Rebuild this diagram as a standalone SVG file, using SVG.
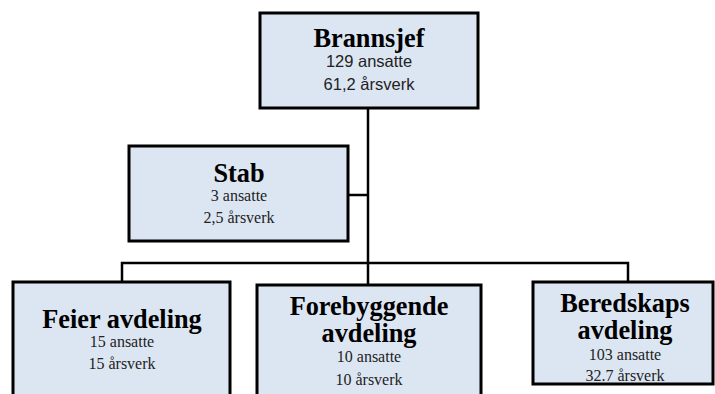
<svg xmlns="http://www.w3.org/2000/svg" width="715" height="394" viewBox="0 0 715 394">
<style>
.box{fill:#dce6f2;stroke:#000;stroke-width:3}
.line{fill:none;stroke:#000;stroke-width:2.5}
.t{font-family:"Liberation Serif","Times New Roman",serif;font-weight:bold;font-size:26.3px;text-anchor:middle;fill:#000}
.s{font-family:"Liberation Serif","Times New Roman",serif;font-size:16px;text-anchor:middle;fill:#222}
.a{font-family:"Liberation Sans",Arial,sans-serif;font-size:16.5px;text-anchor:middle;fill:#222}
</style>
<rect width="715" height="394" fill="#fff"/>
<g id="connectors">
<path class="line" d="M368,108 V263"/>
<path class="line" d="M348,195 H368"/>
<path class="line" d="M122,282 V263 H628 V282"/>
<path class="line" d="M368,263 V285"/>
</g>
<g id="brannsjef">
<rect class="box" x="260" y="13" width="218" height="95"/>
<text class="t" x="369" y="47">Brannsjef</text>
<text class="a" x="369" y="67">129 ansatte</text>
<text class="a" x="369" y="90">61,2 årsverk</text>
</g>
<g id="stab">
<rect class="box" x="129" y="146" width="219" height="95"/>
<text class="t" x="239" y="182">Stab</text>
<text class="s" x="239" y="201">3 ansatte</text>
<text class="s" x="239" y="223">2,5 årsverk</text>
</g>
<g id="feier">
<rect class="box" x="13" y="282" width="217" height="120"/>
<text class="t" x="122" y="328">Feier avdeling</text>
<text class="s" x="122" y="347">15 ansatte</text>
<text class="s" x="122" y="369">15 årsverk</text>
</g>
<g id="forebyggende">
<rect class="box" x="257" y="285" width="224" height="120"/>
<text class="t" x="369" y="315">Forebyggende</text>
<text class="t" x="369" y="342">avdeling</text>
<text class="s" x="369" y="362">10 ansatte</text>
<text class="s" x="369" y="385">10 årsverk</text>
</g>
<g id="beredskaps">
<rect class="box" x="533" y="282" width="180" height="102"/>
<text class="t" x="625" y="312">Beredskaps</text>
<text class="t" x="625" y="339">avdeling</text>
<text class="s" x="625" y="360">103 ansatte</text>
<text class="s" x="625" y="381">32.7 årsverk</text>
</g>
</svg>
